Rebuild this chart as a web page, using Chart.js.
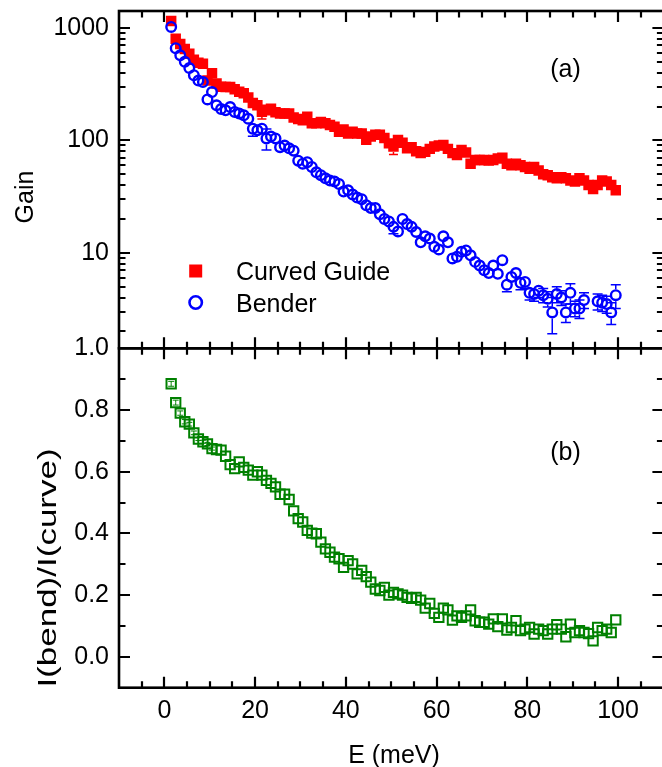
<!DOCTYPE html>
<html><head><meta charset="utf-8">
<script src="https://cdn.jsdelivr.net/npm/chart.js@4.4.0/dist/chart.umd.min.js"></script>
<style>html,body{margin:0;padding:0;overflow:hidden;background:#fff;width:662px;height:767px}canvas{display:block}</style>
</head><body>
<canvas id="c" width="672" height="767" style="width:672px;height:767px"></canvas>
<script>
// ---------------- data ----------------
const energy = [1.5,2.5,3.5,4.5,5.5,6.5,7.5,8.5,9.5,10.5,
 11.5,12.5,13.5,14.5,15.5,16.5,17.5,18.5,19.5,20.5,
 21.5,22.5,23.5,24.5,25.5,26.5,27.5,28.5,29.5,30.5,
 31.5,32.5,33.5,34.5,35.5,36.5,37.5,38.5,39.5,40.5,
 41.5,42.5,43.5,44.5,45.5,46.5,47.5,48.5,49.5,50.5,
 51.5,52.5,53.5,54.5,55.5,56.5,57.5,58.5,59.5,60.5,
 61.5,62.5,63.5,64.5,65.5,66.5,67.5,68.5,69.5,70.5,
 71.5,72.5,73.5,74.5,75.5,76.5,77.5,78.5,79.5,80.5,
 81.5,82.5,83.5,84.5,85.5,86.5,87.5,88.5,89.5,90.5,
 91.5,92.5,93.5,94.5,95.5,96.5,97.5,98.5,99.5];

const curvedGuide = [1150,800,720,650,590,520,490,480,340,395,
 320,300,298,298,285,270,262,240,215,205,
 180,185,191,178,173,173,173,160,155,151,
 162,142,142,146,142,137,132,119,125,115,
 119,115,115,101,108,112,112,105,94,88,
 101,95,85,87,80,77,79,84,88,90,
 91,84,77,74,82,78,62,67,67,67,
 66,67,69,70,62,60,62,60,58,56,
 58,54,50,49,47,46,47,46,44,43,
 46,44,40,37,40,44,43,40,36];
const curvedGuideErr = [12,8,7,6,6,5,5,5,4,4,
 4,4,4,4,4,4,4,4,3,3,
 25,3,3,3,3,3,3,3,3,3,
 3,3,3,3,3,3,3,3,3,3,
 3,3,3,3,3,3,3,3,3,13,
 2,2,2,2,2,2,2,2,2,2,
 2,2,2,2,2,2,2,2,2,2,
 2,2,2,2,2,2,2,2,2,2,
 2,2,2,2,2,2,2,2,2,2,
 2,2,2,2,2,2,2,2,2];

const bender = [1020,660,570,500,440,380,340,330,231,269,
 205,190,185,198,179,173,167,156,127,123,
 127,104,108,104,87,90,85,81,66,62,
 64,58,52,49,46,44,43,41,35,36,
 33,31,30,26.5,25,25,22,20,19,17,
 15.5,20,18,17,15.3,12.4,14,13.4,11.3,10.7,
 14,12.4,8.9,9.2,10.2,10.5,9.5,8.3,7.7,7.0,
 6.6,7.7,6.5,8.6,5.2,6.1,6.6,5.4,5.5,4.4,
 4.3,4.6,4.2,3.9,2.95,4.3,4.0,2.95,4.4,3.2,
 3.2,3.8,null,null,3.7,3.6,3.5,2.95,4.2];
const benderErr = [20,13,11,10,9,8,7,7,5,5,
 4,4,4,4,4,4,4,4,18,4,
 4,22,3,3,3,3,3,3,2.5,2.5,
 2.5,2.5,2,2,2,2,2,2,1.8,1.8,
 1.8,1.8,1.8,1.6,1.6,1.6,1.5,1.4,1.4,2.2,
 1.6,1.6,1.5,1.5,1.4,1.2,1.3,1.3,1.1,1.1,
 1.3,1.2,1.0,1.0,1.0,1.0,1.0,0.9,0.9,0.8,
 0.8,0.9,0.8,0.9,0.7,0.7,0.8,0.7,0.7,0.6,
 0.6,0.6,0.6,0.6,1.05,0.7,0.6,0.55,0.9,0.5,
 0.6,0.6,null,null,0.6,0.6,0.6,0.65,1.0];

const ratio = [0.885,0.824,0.79,0.762,0.754,0.726,0.706,0.697,0.69,0.675,
 0.672,0.67,0.65,0.623,0.61,0.632,0.614,0.605,0.589,0.60,
 0.589,0.572,0.562,0.551,0.527,0.527,0.51,0.473,0.448,0.437,
 0.41,0.401,0.399,0.372,0.35,0.339,0.323,0.318,0.29,0.312,
 0.301,0.269,0.28,0.26,0.242,0.22,0.215,0.225,0.2,0.209,
 0.204,0.2,0.193,0.19,0.193,0.184,0.158,0.173,0.141,0.128,
 0.158,0.152,0.119,0.133,0.128,0.133,0.152,0.117,0.112,0.112,
 0.106,0.123,0.098,0.123,0.087,0.095,0.117,0.085,0.09,0.095,
 0.074,0.09,0.085,0.074,0.09,0.104,0.09,0.065,0.106,0.079,
 0.085,0.079,0.075,0.052,0.095,0.085,0.09,0.079,0.12];
const ratioErr = [0.008,0.008,0.007,0.007,0.006,0.006,0.005,0.005,0.005,0.005];

const seriesNames = ['Curved Guide', 'Bender', 'I(bend)/I(curve)'];
const energyTicks = [0,20,40,60,80,100];
const energyTickLabels = ['0','20','40','60','80','100'];
const energyMinorTicks = [-5,5,10,15,25,30,35,45,50,55,65,70,75,85,90,95,105];
const gainTicks = [10,100,1000];
const gainTickLabels = ['10','100','1000'];
const gainMinorTicks = [2,3,4,5,6,7,8,9,20,30,40,50,60,70,80,90,200,300,400,500,600,700,800,900];
const ratioTicks = [0,0.2,0.4,0.6,0.8,1.0];
const ratioTickLabels = ['0.0','0.2','0.4','0.6','0.8','1.0'];
const ratioMinorTicks = [0.1,0.3,0.5,0.7,0.9];

// ---------------- chart ----------------
const FONT = 'Liberation Sans, Arial, sans-serif';
const RED = '#ff0000', BLUE = '#0000ff', GREEN = '#008000';

function pts(ys) { return energy.map((x, i) => ({x: x, y: ys[i]})); }
function noPad(s) { s.paddingTop = 0; s.paddingBottom = 0; s.paddingLeft = 0; s.paddingRight = 0; }

const errPlugin = {
  id: 'errbars',
  afterDatasetsDraw(chart) {
    const ctx = chart.ctx;
    const xs = chart.scales.x;
    const defs = [
      {vals: curvedGuide, errs: curvedGuideErr, scale: chart.scales.y, color: RED, gap: 5.3, cap: 4.5, lw: 1.5},
      {vals: bender, errs: benderErr, scale: chart.scales.y, color: BLUE, gap: 6, cap: 5, lw: 1.5},
      {vals: ratio, errs: ratioErr, scale: chart.scales.y2, color: GREEN, gap: 0, cap: 3, lw: 1}
    ];
    ctx.save();
    for (const d of defs) {
      ctx.strokeStyle = d.color; ctx.lineWidth = d.lw;
      for (let i = 0; i < energy.length; i++) {
        const v = d.vals[i], e = d.errs[i];
        if (v == null || e == null || !e) continue;
        const px = xs.getPixelForValue(energy[i]);
        const py = d.scale.getPixelForValue(v);
        const top = d.scale.getPixelForValue(v + e);
        const lo = v - e > 0 ? d.scale.getPixelForValue(v - e) : d.scale.bottom;
        ctx.beginPath();
        if (py - top > d.gap + 0.5) {
          ctx.moveTo(px, py - d.gap); ctx.lineTo(px, top);
          ctx.moveTo(px - d.cap, top); ctx.lineTo(px + d.cap, top);
        }
        if (lo - py > d.gap + 0.5) {
          ctx.moveTo(px, py + d.gap); ctx.lineTo(px, lo);
          ctx.moveTo(px - d.cap, lo); ctx.lineTo(px + d.cap, lo);
        }
        ctx.stroke();
      }
    }
    ctx.restore();
  }
};

const framePlugin = {
  id: 'frame',
  afterDraw(chart) {
    const {ctx, chartArea} = chart;
    const xs = chart.scales.x, yg = chart.scales.y, yr = chart.scales.y2;
    const L = chartArea.left, R = chartArea.right;
    const MAJ = 11, MIN = 6.5;
    ctx.save();
    ctx.strokeStyle = '#000';
    ctx.lineWidth = 2.2;
    ctx.beginPath();
    const panels = [{s: yg, maj: gainTicks, min: gainMinorTicks}, {s: yr, maj: ratioTicks, min: ratioMinorTicks}];
    for (const p of panels) {
      const T = p.s.top, B = p.s.bottom;
      const xt = (vals, len) => {
        for (const v of vals) {
          const px = Math.round(xs.getPixelForValue(v));
          if (px <= L + 1 || px >= R - 1) continue;
          ctx.moveTo(px, T); ctx.lineTo(px, T + len);
          ctx.moveTo(px, B); ctx.lineTo(px, B - len);
        }
      };
      const yt = (vals, len) => {
        for (const v of vals) {
          const py = Math.round(p.s.getPixelForValue(v));
          if (py <= T + 1 || py >= B - 1) continue;
          ctx.moveTo(L, py); ctx.lineTo(L + len, py);
          ctx.moveTo(R, py); ctx.lineTo(R - len, py);
        }
      };
      xt(energyTicks, MAJ); xt(energyMinorTicks, MIN);
      yt(p.maj, MAJ); yt(p.min, MIN);
    }
    ctx.stroke();
    ctx.lineWidth = 2.6;
    ctx.strokeRect(L, yg.top, R - L, yg.bottom - yg.top);
    ctx.strokeRect(L, yr.top, R - L, yr.bottom - yr.top);

    // axis titles, panel labels, legend
    ctx.fillStyle = '#000';
    ctx.font = '25px ' + FONT;
    ctx.textBaseline = 'alphabetic';
    ctx.textAlign = 'center';
    ctx.save(); ctx.translate(33, 197); ctx.rotate(-Math.PI / 2); ctx.fillText('Gain', 0, 0); ctx.restore();
    ctx.save(); ctx.translate(56, 568); ctx.rotate(-Math.PI / 2); ctx.scale(1.4, 1); ctx.fillText(seriesNames[2], 0, 0); ctx.restore();
    ctx.fillText('E (meV)', 394, 763);
    ctx.fillText('(a)', 565.5, 77);
    ctx.fillText('(b)', 565.5, 460);
    ctx.textAlign = 'left';
    ctx.fillText(seriesNames[0], 236, 280);
    ctx.fillText(seriesNames[1], 236, 311.5);
    ctx.fillStyle = RED;
    ctx.fillRect(189.2, 264.5, 13, 13);
    ctx.strokeStyle = BLUE; ctx.lineWidth = 2.6;
    ctx.beginPath(); ctx.arc(195.7, 302.5, 6.2, 0, Math.PI * 2); ctx.stroke();
    ctx.restore();
  }
};

const tickFont = {family: FONT, size: 25};

new Chart(document.getElementById('c'), {
  type: 'scatter',
  data: {
    datasets: [
      {label: seriesNames[1], data: pts(bender), yAxisID: 'y', order: 0, pointStyle: 'circle', pointRadius: 4.8,
       borderColor: BLUE, backgroundColor: 'rgba(0,0,0,0)', borderWidth: 2.4, showLine: false},
      {label: seriesNames[0], data: pts(curvedGuide), yAxisID: 'y', order: 1, pointStyle: 'rect', pointRadius: 7.4,
       borderColor: RED, backgroundColor: RED, borderWidth: 0, showLine: false},
      {label: seriesNames[2], data: pts(ratio), yAxisID: 'y2', order: 2, pointStyle: 'rect', pointRadius: 6.6,
       borderColor: GREEN, backgroundColor: 'rgba(0,0,0,0)', borderWidth: 2, showLine: false}
    ]
  },
  options: {
    responsive: false, animation: false, devicePixelRatio: 1, events: [],
    layout: {padding: {top: 11, right: 3, left: 0, bottom: 0}},
    plugins: {legend: {display: false}, tooltip: {enabled: false}},
    scales: {
      x: {
        type: 'linear', min: -10, max: 110, position: 'bottom',
        grid: {display: false, drawTicks: false}, border: {display: false},
        afterBuildTicks: s => { s.ticks = energyTicks.map(v => ({value: v})); },
        afterFit: s => { s.height = 79.3; noPad(s); },
        ticks: {font: tickFont, color: '#000', padding: 8, autoSkip: false, maxRotation: 0,
                callback: (v, i) => energyTickLabels[i]}
      },
      y: {
        type: 'logarithmic', min: 1.414, max: 1414, position: 'left', stack: 'panels', stackWeight: 337.3, weight: 2,
        grid: {display: false, drawTicks: false}, border: {display: false},
        afterBuildTicks: s => { s.ticks = gainTicks.map(v => ({value: v})); },
        afterFit: s => { s.width = 119; noPad(s); },
        ticks: {font: tickFont, color: '#000', padding: 10, autoSkip: false,
                callback: (v, i) => gainTickLabels[i]}
      },
      y2: {
        type: 'linear', min: -0.1, max: 1.0, position: 'left', stack: 'panels', stackWeight: 339.4, weight: 1,
        grid: {display: false, drawTicks: false}, border: {display: false},
        afterBuildTicks: s => { s.ticks = ratioTicks.map(v => ({value: v})); },
        afterFit: s => { s.width = 119; noPad(s); },
        ticks: {font: tickFont, color: '#000', padding: 10, autoSkip: false,
                callback: (v, i) => ratioTickLabels[i]}
      }
    }
  },
  plugins: [errPlugin, framePlugin]
});
</script>
</body></html>
